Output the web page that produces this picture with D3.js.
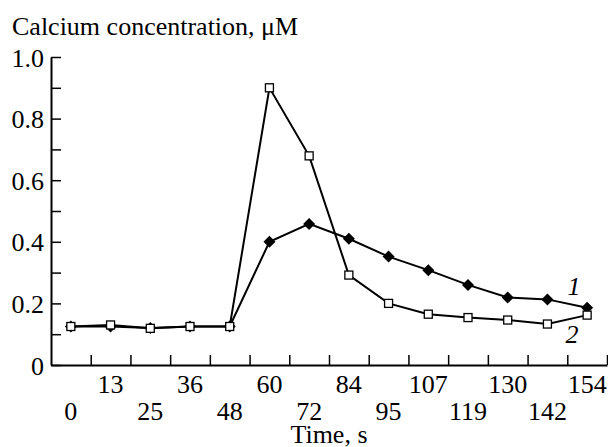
<!DOCTYPE html>
<html>
<head>
<meta charset="utf-8">
<script src="https://cdn.jsdelivr.net/npm/d3@7"></script>
<style>
  body { margin: 0; background: #fff; }
  svg { display: block; }
</style>
</head>
<body>
<div id="chart"></div>
<script>
// time points (s), evenly spaced on the axis
var times = [0, 13, 25, 36, 48, 60, 72, 84, 95, 107, 119, 130, 142, 154];
// curve 1 (filled diamonds)
var curve1 = [0.125, 0.125, 0.12, 0.125, 0.125, 0.40, 0.458, 0.41, 0.352, 0.308, 0.26, 0.219, 0.213, 0.186];
// curve 2 (open squares)
var curve2 = [0.125, 0.13, 0.119, 0.125, 0.125, 0.90, 0.679, 0.292, 0.20, 0.165, 0.154, 0.146, 0.133, 0.162];
var yMajor = [0, 0.2, 0.4, 0.6, 0.8, 1.0];
var yMinor = [0.1, 0.3, 0.5, 0.7, 0.9];

var w = 608, h = 447;
var plotLeft = 51, plotRight = 607, plotTop = 57, plotBottom = 365;
var serif = "'Liberation Serif', 'Times New Roman', Times, serif";

var svg = d3.select("#chart").append("svg")
    .attr("width", w)
    .attr("height", h);

var x = d3.scaleBand().domain(times).range([plotLeft, plotRight]);
var xEdge = d3.scaleLinear().domain([0, times.length]).range([plotLeft, plotRight]);
var y = d3.scaleLinear().domain([0, 1]).range([plotBottom, plotTop]);

// y axis, ticks point inward
var yAxis = svg.append("g")
    .attr("transform", "translate(" + plotLeft + ",0)")
    .call(d3.axisLeft(y).tickValues(yMajor).tickSize(-10).tickSizeOuter(0).tickPadding(7)
        .tickFormat(function (d) { return d === 0 ? "0" : d3.format(".1f")(d); }));
svg.append("g")
    .attr("transform", "translate(" + plotLeft + ",0)")
    .call(d3.axisLeft(y).tickValues(yMinor).tickSize(-10).tickFormat(""))
    .select(".domain").remove();

// x axis: ticks on band edges, labels under the points in two rows
svg.append("g")
    .attr("transform", "translate(0," + plotBottom + ")")
    .call(d3.axisBottom(xEdge).tickValues(d3.range(1, times.length + 1)).tickSize(-10).tickSizeOuter(0).tickFormat(""));
var xLab = svg.append("g")
    .attr("transform", "translate(0," + plotBottom + ")")
    .call(d3.axisBottom(x).tickSize(0));
xLab.select(".domain").remove();
xLab.selectAll(".tick text")
    .attr("y", function (d, i) { return i % 2 ? 28 : 55; })
    .attr("dy", 0);

svg.selectAll(".domain").attr("stroke", "#000").attr("stroke-width", 2);
svg.selectAll(".tick line").attr("stroke", "#000").attr("stroke-width", 1.5);
svg.selectAll(".tick text").style("font-size", "26px").style("font-family", serif).attr("fill", "#000");
yAxis.selectAll(".tick text").attr("dy", "0.35em");

function cx(i) { return x(times[i]) + x.bandwidth() / 2; }

var line = d3.line()
    .x(function (d, i) { return cx(i); })
    .y(function (d) { return y(d); });

[curve1, curve2].forEach(function (c) {
    svg.append("path")
        .datum(c)
        .attr("fill", "none")
        .attr("stroke", "#000")
        .attr("stroke-width", 2)
        .attr("d", line);
});

// diamonds
svg.selectAll(".dia")
    .data(curve1)
    .enter()
    .append("path")
    .attr("class", "dia")
    .attr("d", "M0,-6L6,0L0,6L-6,0Z")
    .attr("fill", "#000")
    .attr("transform", function (d, i) { return "translate(" + cx(i) + "," + y(d) + ")"; });

// squares
svg.selectAll(".sq")
    .data(curve2)
    .enter()
    .append("rect")
    .attr("class", "sq")
    .attr("x", function (d, i) { return cx(i) - 4; })
    .attr("y", function (d) { return y(d) - 4; })
    .attr("width", 8)
    .attr("height", 8)
    .attr("fill", "#fff")
    .attr("stroke", "#000")
    .attr("stroke-width", 1.3);

// curve numbers
svg.append("text").attr("x", 574).attr("y", 295).attr("text-anchor", "middle")
    .style("font-family", serif).style("font-size", "26px").style("font-style", "italic").text("1");
svg.append("text").attr("x", 572).attr("y", 343).attr("text-anchor", "middle")
    .style("font-family", serif).style("font-size", "26px").style("font-style", "italic").text("2");

// titles
svg.append("text").attr("x", 12).attr("y", 35)
    .style("font-family", serif).style("font-size", "26px")
    .text("Calcium concentration, \u03bcM");
svg.append("text").attr("x", 329).attr("y", 443).attr("text-anchor", "middle")
    .style("font-family", serif).style("font-size", "26px").text("Time, s");
</script>
</body>
</html>
